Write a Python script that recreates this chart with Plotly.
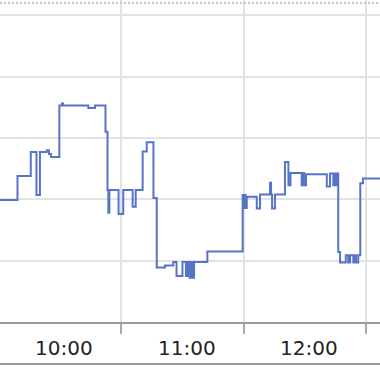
import pandas as pd
import plotly.graph_objects as go

# minutes after 10:00 at which the value changes (step line), and the new value
minutes = [-1.7, 9.3, 15.8, 18.6, 20.3, 23.6, 24.7, 25.7, 29.8, 31.1, 31.6, 44.0, 47.3,
           52.4, 53.4, 53.8, 54.3, 58.8, 61.1, 65.7, 67.2, 70.6, 72.6, 75.9, 77.5,
           81.5, 85.6, 87.2, 90.1, 91.8, 92.8, 93.6, 94.3, 95.0, 95.8, 102.3,
           119.6, 120.0, 120.5, 121.0, 121.6, 126.5, 128.1, 133.0, 133.5, 134.0, 135.4,
           140.3, 142.0, 143.0, 148.5, 149.1, 149.6, 150.6, 160.8, 162.4, 164.0, 164.8,
           165.3, 166.0, 166.4, 167.3, 170.1, 171.3, 172.2, 173.8, 174.6, 175.1, 176.2,
           177.2, 178.5, 189.3]
values = [19.9, 23.8, 27.7, 20.7, 27.7, 28.0, 27.4, 26.9, 35.3, 35.6, 35.3, 34.9, 35.3,
          31.0, 21.5, 17.8, 21.5, 17.6, 21.5, 18.8, 21.5, 27.8, 29.3, 20.2, 8.9,
          9.2, 9.8, 7.5, 9.8, 7.5, 9.8, 7.2, 9.8, 7.2, 9.8, 11.5,
          20.7, 18.6, 20.7, 18.6, 20.4, 18.5, 20.8, 22.7, 20.8, 18.5, 20.8,
          26.1, 22.3, 24.3, 22.3, 24.3, 22.3, 24.1, 22.1, 24.2, 22.3, 24.2,
          22.3, 24.2, 11.4, 9.7, 10.9, 9.7, 10.9, 9.7, 10.9, 9.7, 10.9,
          22.6, 23.4, 23.4]

grid_times = ["11:00", "12:00", "13:00"]
label_texts = ["10:00", "11:00", "12:00"]
label_offset_min = 32.1  # labels sit in the middle of each hour block

base = pd.Timestamp("2024-01-01 10:00:00")
xs = [base + pd.to_timedelta(m, unit="min") for m in minutes]
grid_x = [pd.Timestamp("2024-01-01 " + t) for t in grid_times]
label_x = [pd.Timestamp("2024-01-01 " + t) + pd.to_timedelta(label_offset_min, unit="min")
           for t in label_texts]

x0 = base + pd.to_timedelta(0.734, unit="min")
x1 = base + pd.to_timedelta(186.86, unit="min")

fig = go.Figure()
fig.add_trace(go.Scatter(x=xs, y=values, mode="lines", line_shape="hv",
                         line=dict(color="#5673c8", width=2), hoverinfo="skip"))

for lx, lt in zip(label_x, label_texts):
    fig.add_annotation(x=lx, y=-26 / 322, xref="x", yref="paper", text=lt,
                       showarrow=False, xanchor="center", yanchor="middle",
                       font=dict(family="DejaVu Sans", size=20, color="#222"))

# dotted line at the top and the bottom border
fig.add_shape(type="line", xref="paper", yref="paper", x0=0, x1=1,
              y0=(322 - 3) / 322, y1=(322 - 3) / 322,
              line=dict(color="#c4c4c4", width=2, dash="2px,2px"))
fig.add_shape(type="line", xref="paper", yref="paper", x0=0, x1=1,
              y0=(322 - 364) / 322, y1=(322 - 364) / 322,
              line=dict(color="#9a9a9a", width=2))

fig.update_xaxes(range=[x0, x1], tickvals=grid_x, showticklabels=False,
                 showgrid=True, gridcolor="#e2e2e2", gridwidth=2,
                 ticks="outside", ticklen=10, tickcolor="#a8a8a8", tickwidth=1.5,
                 showline=True, linecolor="#9a9a9a", linewidth=1.5, zeroline=False)
fig.update_yaxes(range=[0, 322 / 6.135], tickvals=[10, 20, 30, 40, 50],
                 showticklabels=False, showgrid=True, gridcolor="#e2e2e2", gridwidth=2,
                 zeroline=False, showline=False, ticks="")
fig.update_layout(width=380, height=372, margin=dict(l=0, r=0, t=0, b=50),
                  paper_bgcolor="white", plot_bgcolor="white", showlegend=False,
                  font=dict(family="DejaVu Sans"))
fig.write_html("out.html", config={"displayModeBar": False})
